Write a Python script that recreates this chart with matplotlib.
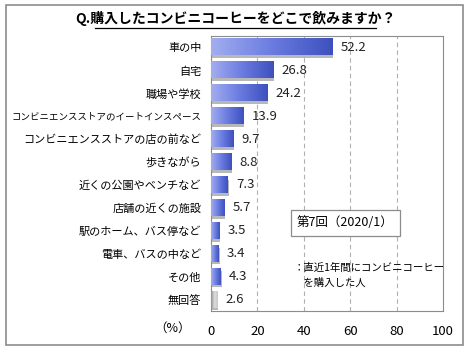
import numpy as np
import matplotlib
matplotlib.use("Agg")
import matplotlib.pyplot as plt
from matplotlib.colors import LinearSegmentedColormap
from matplotlib.patches import Rectangle

plt.rcParams['font.family'] = ['Noto Sans CJK JP', 'DejaVu Sans']

LABELS = ["車の中", "自宅", "職場や学校", "コンビニエンスストアのイートインスペース",
          "コンビニエンスストアの店の前など", "歩きながら", "近くの公園やベンチなど",
          "店舗の近くの施設", "駅のホーム、バス停など", "電車、バスの中など", "その他", "無回答"]
VALUES = [52.2, 26.8, 24.2, 13.9, 9.7, 8.8, 7.3, 5.7, 3.5, 3.4, 4.3, 2.6]
XTICKS = [0, 20, 40, 60, 80, 100]

blue = LinearSegmentedColormap.from_list("b", ["#a3adf0", "#6a7ce0", "#3d50bd"])
gray = LinearSegmentedColormap.from_list("g", ["#8c8c8c", "#dcdcdc", "#c8c8c8"])

W, H = 470, 350
fig = plt.figure(figsize=(W / 100, H / 100), dpi=100)
# outer frame
fig.patches.append(Rectangle((6 / W, 5 / H), 457 / W, 340 / H, transform=fig.transFigure,
                             fill=False, ec="#8c8c8c", lw=1.2))

ax = fig.add_axes([211 / W, 1 - 311 / H, 232 / W, 275 / H])
n = len(VALUES)
bh = 0.7
grad = np.linspace(0, 1, 256).reshape(1, -1)
for i, (lab, v) in enumerate(zip(LABELS, VALUES)):
    cmap = gray if lab == "無回答" else blue
    # shadow
    ax.add_patch(Rectangle((0.4, i - bh / 2 + 0.12), v, bh, fc="#b8b8b8", ec="none", zorder=2))
    ax.imshow(grad, cmap=cmap, aspect="auto", extent=(0, v, i + bh / 2, i - bh / 2), zorder=3)
    ax.text(v + 3.5, i, f"{v:.1f}", va="center", ha="left", fontsize=9.5, color="#222222")

ax.set_xlim(0, 100)
ax.set_ylim(n - 0.5, -0.5)
for x in XTICKS[1:-1]:
    ax.axvline(x, color="#b0b0b0", ls=(0, (4, 3)), lw=0.8, zorder=1)
ax.set_xticks(XTICKS)
ax.set_xticklabels([str(t) for t in XTICKS], fontsize=9.5)
ax.set_yticks(range(n))
ax.set_yticklabels(LABELS, fontsize=8)
for tl in ax.get_yticklabels():
    if len(tl.get_text()) > 18:
        tl.set_fontsize(6.8)
ax.tick_params(length=0, pad=7)
ax.tick_params(axis="x", pad=10)
for s in ax.spines.values():
    s.set_color("#8c8c8c")

fig.text(173 / W, 1 - 328 / H, "（%）", ha="center", va="center", fontsize=9)
fig.text(235 / W, 1 - 18 / H, "Q.購入したコンビニコーヒーをどこで飲みますか？",
         ha="center", va="center", fontsize=10, fontweight="bold")
fig.lines.append(plt.Line2D([95 / W, 376 / W], [1 - 28 / H, 1 - 28 / H], transform=fig.transFigure,
                            color="black", lw=0.9))

ax.text(0.37, 0.32, "第7回（2020/1）", transform=ax.transAxes, fontsize=9, va="center", ha="left",
        bbox=dict(boxstyle="square,pad=0.5", fc="white", ec="#8c8c8c", lw=0.9), zorder=5)
ax.text(0.355, 0.13, "：直近1年間にコンビニコーヒー\n　を購入した人", transform=ax.transAxes,
        fontsize=7.5, va="center", ha="left", linespacing=1.6, zorder=5)

fig.savefig("out.png", dpi=100)
